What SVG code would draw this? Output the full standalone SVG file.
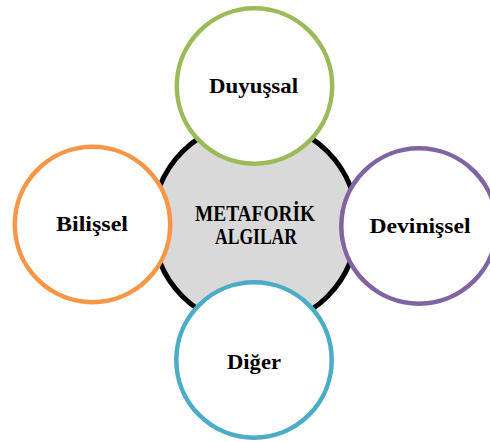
<svg xmlns="http://www.w3.org/2000/svg" width="490" height="442" viewBox="0 0 490 442">
<style>
.lbl{font-family:"Liberation Serif","Times New Roman",serif;font-weight:bold;font-size:21.5px;fill:#000;text-anchor:middle}
.big{font-size:23px}
.sat{fill:#fff;stroke-width:4.5}
</style>
<rect width="490" height="442" fill="#fff"/>
<g id="connectors"/>
<g id="center">
<circle cx="255" cy="224" r="102.5" fill="#d9d9d9" stroke="#000" stroke-width="5"/>
<text class="lbl big" x="255" y="221" textLength="120" lengthAdjust="spacingAndGlyphs">METAFORİK</text>
<text class="lbl big" x="256" y="243.5" textLength="82" lengthAdjust="spacingAndGlyphs">ALGILAR</text>
</g>
<g id="duyussal">
<circle class="sat" cx="254.5" cy="86" r="77.7" stroke="#9bbb59"/>
<text class="lbl" x="253.5" y="92.7" textLength="89" lengthAdjust="spacingAndGlyphs">Duyuşsal</text>
</g>
<g id="bilissel">
<circle class="sat" cx="92.5" cy="224.5" r="77.7" stroke="#f79646"/>
<text class="lbl" x="92" y="230.7" textLength="72" lengthAdjust="spacingAndGlyphs">Bilişsel</text>
</g>
<g id="devinissel">
<circle class="sat" cx="419" cy="226" r="77.7" stroke="#8064a2"/>
<text class="lbl" x="420" y="232.7" textLength="101" lengthAdjust="spacingAndGlyphs">Devinişsel</text>
</g>
<g id="diger">
<circle class="sat" cx="254" cy="360" r="77.7" stroke="#4bacc6"/>
<text class="lbl" x="254" y="369.3" textLength="54" lengthAdjust="spacingAndGlyphs">Diğer</text>
</g>
</svg>
